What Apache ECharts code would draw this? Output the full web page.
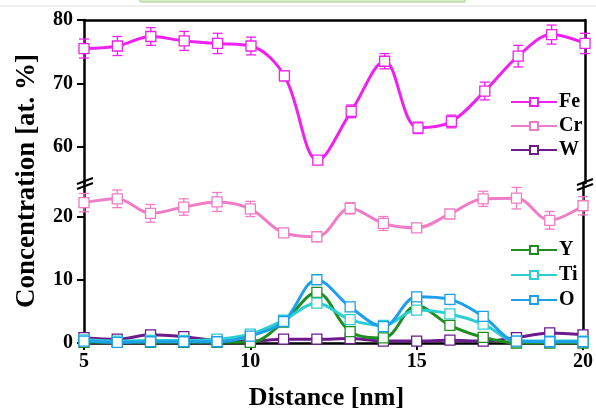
<!DOCTYPE html>
<html>
<head>
<meta charset="utf-8">
<script src="https://cdn.jsdelivr.net/npm/echarts@6/dist/echarts.min.js"></script>
<style>
html, body { margin: 0; padding: 0; background: #fff; }
#chart { width: 596px; height: 419px; }
</style>
</head>
<body>
<div id="chart"></div>
<script>
// distance along the profile, nm
const distance = [5, 6, 7, 8, 9, 10, 11, 12, 13, 14, 15, 16, 17, 18, 19, 20];

// concentrations, at. %
const fe = [75.5, 75.9, 77.4, 76.7, 76.3, 75.9, 71.2, 57.9, 65.6, 73.5, 63.0, 64.0, 68.8, 74.3, 77.7, 76.3];
const feErr = [1.5, 1.5, 1.4, 1.5, 1.6, 1.4, 0.8, 0.5, 1.0, 1.2, 0.9, 1.0, 1.4, 1.7, 1.5, 1.6];
const cr = [22.2, 22.8, 20.5, 21.5, 22.3, 21.2, 17.4, 16.8, 21.3, 18.9, 18.2, 20.4, 22.8, 22.9, 19.4, 21.7];
const crErr = [1.45, 1.4, 1.4, 1.3, 1.5, 1.2, 0.6, 0.4, 0.9, 1.1, 0.6, 0.6, 1.2, 1.7, 1.4, 1.45];
const w = [0.85, 0.6, 1.3, 1.0, 0.4, 0.3, 0.6, 0.6, 0.7, 0.3, 0.3, 0.45, 0.3, 0.85, 1.6, 1.3];
const y = [0.1, 0.1, 0.1, 0.1, 0.1, 0.1, 3.3, 8.0, 1.8, 0.8, 5.9, 2.8, 0.9, 0.0, 0.0, 0.0];
const ti = [0.5, 0.3, 0.4, 0.4, 0.6, 1.4, 3.6, 6.3, 3.7, 2.8, 5.2, 4.6, 3.0, 0.3, 0.3, 0.3];
const o = [0.3, 0.1, 0.2, 0.2, 0.2, 1.1, 3.4, 10.0, 5.7, 2.6, 7.3, 6.9, 4.2, 0.3, 0.2, 0.2];

const upperTicks = [60, 70, 80];
const lowerTicks = [0, 10, 20];
const xTicks = [5, 10, 15, 20];

const FONT = '"Liberation Serif", "Times New Roman", serif';
const colors = {
  Fe: '#f020f0', Cr: '#f07cc6', W: '#6c1a8c',
  Y: '#1f8e22', Ti: '#2ccfd0', O: '#1d9feb'
};

const chart = echarts.init(document.getElementById('chart'));

function lineSeries(name, values, xi, yi) {
  return {
    type: 'line', name: name, xAxisIndex: xi, yAxisIndex: yi,
    data: distance.map((d, i) => [d, values[i]]),
    smooth: 0.35, symbol: 'rect', symbolSize: 10, z: 3,
    lineStyle: { color: colors[name], width: 3 },
    itemStyle: { color: '#fff', borderColor: colors[name], borderWidth: 1.3 },
    emphasis: { disabled: true }
  };
}

function errorSeries(name, values, errs, xi, yi) {
  return {
    type: 'custom', name: name + ' err', xAxisIndex: xi, yAxisIndex: yi, z: 2,
    silent: true,
    data: distance.map((d, i) => [d, values[i] - errs[i], values[i] + errs[i]]),
    renderItem: function (params, api) {
      const lo = api.coord([api.value(0), api.value(1)]);
      const hi = api.coord([api.value(0), api.value(2)]);
      const cap = 5;
      const style = { stroke: colors[name], lineWidth: 1.3 };
      return {
        type: 'group',
        children: [
          { type: 'line', shape: { x1: lo[0], y1: lo[1], x2: hi[0], y2: hi[1] }, style: style },
          { type: 'line', shape: { x1: lo[0] - cap, y1: lo[1], x2: lo[0] + cap, y2: lo[1] }, style: style },
          { type: 'line', shape: { x1: hi[0] - cap, y1: hi[1], x2: hi[0] + cap, y2: hi[1] }, style: style }
        ]
      };
    }
  };
}

const axisLine = { show: true, lineStyle: { color: '#000', width: 2.5 } };
const tick = { show: true, length: 7, lineStyle: { color: '#000', width: 2 } };
const tickLabel = { color: '#000', fontFamily: FONT, fontWeight: 'bold', fontSize: 20 };

function frameAxis(gridIndex, min, max) {
  return {
    gridIndex: gridIndex, type: 'value', position: 'right', min: min, max: max,
    axisLine: axisLine, axisTick: { show: false }, axisLabel: { show: false },
    splitLine: { show: false }
  };
}

chart.setOption({
  backgroundColor: '#fff',
  animation: false,
  grid: [
    { left: 84, right: 11, top: 20, height: 163 },
    { left: 84, right: 11, top: 183, bottom: 76 }
  ],
  xAxis: [
    {
      gridIndex: 0, type: 'value', min: 5, max: 20, position: 'top',
      axisLine: axisLine, axisTick: { show: false }, axisLabel: { show: false },
      splitLine: { show: false }
    },
    {
      gridIndex: 1, type: 'value', min: 5, max: 20, interval: 5,
      axisLine: axisLine, axisTick: tick,
      axisLabel: Object.assign({ margin: 9, customValues: xTicks }, tickLabel),
      splitLine: { show: false },
      name: 'Distance [nm]', nameLocation: 'middle', nameGap: 42,
      nameTextStyle: { color: '#000', fontFamily: FONT, fontWeight: 'bold', fontSize: 26, padding: [0, 14, 0, 0] }
    }
  ],
  yAxis: [
    {
      gridIndex: 0, type: 'value', min: 54.3, max: 80,
      axisLine: axisLine,
      axisTick: Object.assign({ customValues: upperTicks }, tick),
      axisLabel: Object.assign({ margin: 11, customValues: upperTicks }, tickLabel),
      splitLine: { show: false }
    },
    frameAxis(0, 54.3, 80),
    {
      gridIndex: 1, type: 'value', min: 0, max: 25.3,
      axisLine: axisLine,
      axisTick: Object.assign({ customValues: lowerTicks }, tick),
      axisLabel: Object.assign({ margin: 11, customValues: lowerTicks }, tickLabel),
      splitLine: { show: false }
    },
    frameAxis(1, 0, 25.3)
  ],
  legend: [
    {
      data: ['Fe', 'Cr', 'W'], orient: 'vertical', left: 505, top: 87,
      itemWidth: 46, itemHeight: 10, itemGap: 4, selectedMode: false,
      textStyle: { color: '#000', fontFamily: FONT, fontWeight: 'bold', fontSize: 20, lineHeight: 20, padding: [0, 0, 0, -3] }
    },
    {
      data: ['Y', 'Ti', 'O'], orient: 'vertical', left: 505, top: 235,
      itemWidth: 46, itemHeight: 10, itemGap: 5, selectedMode: false,
      textStyle: { color: '#000', fontFamily: FONT, fontWeight: 'bold', fontSize: 20, lineHeight: 20, padding: [0, 0, 0, -3] }
    }
  ],
  graphic: [
    { type: 'rect', shape: { x: 140, y: -2, width: 325, height: 4 }, style: { fill: '#d9efc8', stroke: '#9fd08a', lineWidth: 1 } },
    { type: 'line', shape: { x1: 0, y1: 6, x2: 596, y2: 6 }, style: { stroke: '#dedede', lineWidth: 1 } },
    // axis break marks
    { type: 'line', shape: { x1: 77, y1: 184, x2: 93, y2: 178 }, style: { stroke: '#000', lineWidth: 2 } },
    { type: 'line', shape: { x1: 77, y1: 189, x2: 93, y2: 183 }, style: { stroke: '#000', lineWidth: 2 } },
    { type: 'line', shape: { x1: 577, y1: 185, x2: 593, y2: 179 }, style: { stroke: '#000', lineWidth: 2 } },
    { type: 'line', shape: { x1: 577, y1: 190, x2: 593, y2: 184 }, style: { stroke: '#000', lineWidth: 2 } },
    {
      type: 'text', x: 27, y: 181, rotation: Math.PI / 2,
      style: {
        text: 'Concentration [at. %]', fill: '#000', font: 'bold 27px ' + FONT,
        textAlign: 'center', textVerticalAlign: 'middle'
      }
    }
  ],
  series: [
    errorSeries('Fe', fe, feErr, 0, 0),
    errorSeries('Cr', cr, crErr, 1, 2),
    lineSeries('Fe', fe, 0, 0),
    lineSeries('Cr', cr, 1, 2),
    lineSeries('W', w, 1, 2),
    lineSeries('Y', y, 1, 2),
    lineSeries('Ti', ti, 1, 2),
    lineSeries('O', o, 1, 2)
  ]
});
</script>
</body>
</html>
